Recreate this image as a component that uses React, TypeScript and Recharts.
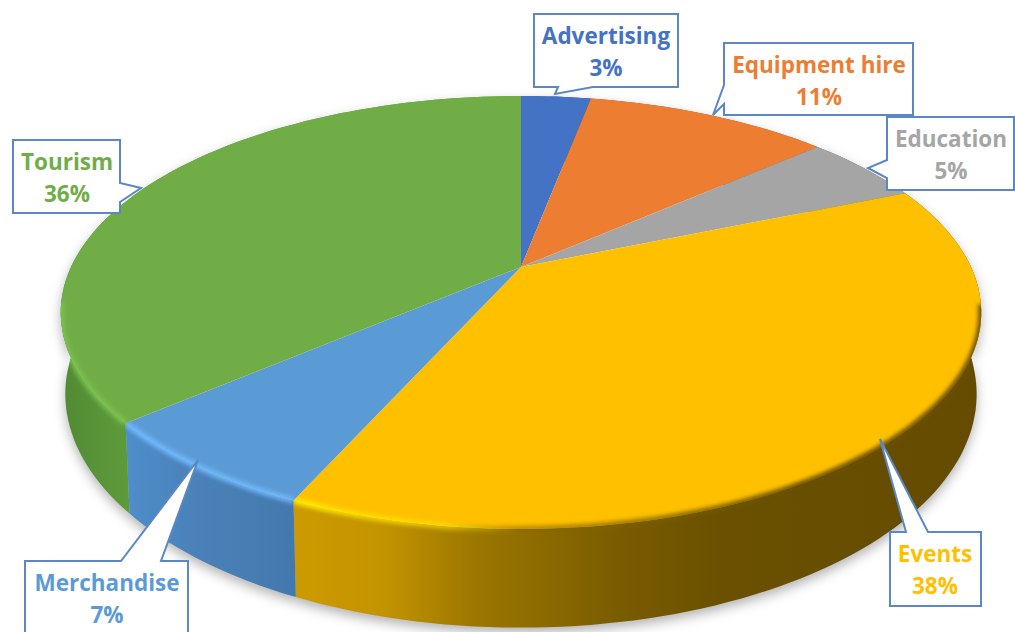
import React from "react";
import { PieChart, Pie, Cell } from "recharts";

const categories = ["Advertising", "Equipment hire", "Education", "Events", "Merchandise", "Tourism"];
const shares = [3, 10.5, 5.2, 38, 7, 36.3];
const colors = ["#4472C4", "#ED7D31", "#A5A5A5", "#FFC000", "#5B9BD5", "#70AD47"];

const rows = categories.map((name, i) => ({ name, value: shares[i] }));

const W = 1015;
const H = 632;
const CX = 521;
const CY = 267;
const RADIUS = 450;
const SQUASH = 0.4598;
const PERSP = 0.21;
const DEPTH = 78;
const WALL_NARROW = 0.99;
const RIM_FROM_Y = 302;
const FONT = "'Open Sans', sans-serif";

type Stop = [number, string];
const wallStops: Stop[][] = [
  [[0, "#35568f"], [1, "#2d4a7c"]],
  [[0, "#b05c24"], [1, "#a0531f"]],
  [[0, "#7c7c7c"], [1, "#6c6c6c"]],
  [[0, "#cc9a00"], [0.12, "#c49400"], [0.266, "#9a7600"], [0.47, "#7a5c00"], [0.62, "#6a5000"], [1, "#644b00"]],
  [[0, "#4e8ecb"], [0.08, "#4a82b9"], [0.2, "#4379ae"], [1, "#3f72a4"]],
  [[0, "#4f8a33"], [0.05, "#5a9639"], [0.1, "#609f3c"], [1, "#609f3c"]],
];
const rimStops: [number, string, number][][] = [
  [[0, "#4472C4", 0]],
  [[0, "#ED7D31", 0]],
  [[0, "#A5A5A5", 0]],
  [[0.26, "#ffee00", 0.95], [0.42, "#ffdc00", 0.7], [0.5, "#8a6800", 0.6], [0.8, "#6a5000", 1], [1, "#6a5000", 1]],
  [[0, "#72bcff", 0.9], [0.3, "#72bcff", 0.9]],
  [[0, "#7cc450", 0.9], [0.1, "#7cc450", 0.9], [0.16, "#7cc450", 0.8]],
];

type Callout = { box: [number, number, number, number]; ptr: [number, number][]; text: number };
const callouts: Callout[] = [
  { box: [534, 14, 678, 87], ptr: [[558, 87], [555, 94], [593, 87]], text: 606 },
  { box: [724, 43, 913, 115], ptr: [[724, 85], [713, 115], [724, 104]], text: 819 },
  { box: [887, 117, 1014, 190], ptr: [[887, 160], [868, 168], [887, 178]], text: 951 },
  { box: [890, 532, 981, 606], ptr: [[906, 532], [880, 439], [928, 532]], text: 935 },
  { box: [25, 561, 188, 660], ptr: [[121, 561], [198, 460], [161, 561]], text: 107 },
  { box: [13, 140, 120, 213], ptr: [[120, 183], [141, 188], [120, 202]], text: 67 },
];

const project = (cx: number, cy: number, r: number, deg: number) => {
  const a = (deg * Math.PI) / 180;
  const u = Math.cos(a);
  const v = -Math.sin(a);
  const d = 1 - PERSP * v;
  return { x: cx + (r * u) / d, y: cy + (r * SQUASH * v) / d, s: 1 / d };
};

const arcPoints = (p: any) => {
  const n = Math.max(4, Math.ceil(Math.abs(p.endAngle - p.startAngle) / 1.5));
  const out = [];
  for (let i = 0; i <= n; i++) {
    out.push(project(p.cx, p.cy, p.outerRadius, p.startAngle + ((p.endAngle - p.startAngle) * i) / n));
  }
  return out;
};
const line = (pts: { x: number; y: number }[]) =>
  pts.map((q, i) => `${i ? "L" : "M"}${q.x.toFixed(1)} ${q.y.toFixed(1)}`).join(" ");

const wallPath = (p: any) => {
  const rim = arcPoints(p);
  const low = rim
    .map((q) => ({ x: p.cx + (q.x - p.cx) * WALL_NARROW, y: q.y + DEPTH * q.s }))
    .reverse();
  return `${line(rim)} ${line(low).replace("M", "L")} Z`;
};

const ShadowSector = (p: any) => (
  <path d={wallPath(p)} transform="translate(0 5)" fill="#000" fillOpacity={0.3} filter="url(#soft)" />
);
const WallSector = (p: any) => <path d={wallPath(p)} fill={`url(#wall${p.index})`} />;
const TopSector = (p: any) => {
  const rim = arcPoints(p);
  const top = `M${p.cx} ${p.cy} ${line(rim).replace("M", "L")} Z`;
  const front = rim.filter((q) => q.y > RIM_FROM_Y);
  return (
    <g>
      <path d={top} fill={colors[p.index]} />
      <clipPath id={`topclip${p.index}`}>
        <path d={top} />
        <path d={wallPath(p)} />
      </clipPath>
      {front.length > 1 && (
        <g clipPath={`url(#topclip${p.index})`}>
          <path d={line(front)} fill="none" stroke={`url(#rim${p.index})`} strokeWidth={6} filter="url(#rimblur)" />
        </g>
      )}
    </g>
  );
};

const CalloutLabel = (p: any) => {
  const c = callouts[p.index];
  if (!c) return null;
  const [x0, y0, x1, y1] = c.box;
  const [a, tip, b] = c.ptr;
  const corners: [number, number][] = [[x0, y0], [x1, y0], [x1, y1], [x0, y1]];
  // walk the box outline, inserting the pointer on the side it leaves from
  const pts: [number, number][] = [];
  const side = a[1] === y0 && b[1] === y0 ? 0 : a[0] === x1 ? 1 : a[1] === y1 ? 2 : 3;
  corners.forEach((k, i) => {
    pts.push(k);
    if (i === side) {
      if (side === 2 || side === 3) pts.push(b, tip, a);
      else pts.push(a, tip, b);
    }
  });
  const color = colors[p.index];
  return (
    <g>
      <path
        d={`M${pts.map((q) => q.join(" ")).join(" L")} Z`}
        fill="#fff"
        stroke="#5B87C5"
        strokeWidth={2}
        strokeLinejoin="miter"
      />
      <text
        x={c.text}
        y={y0 + 29.5}
        textAnchor="middle"
        fontFamily={FONT}
        fontWeight={700}
        fontSize={22.5}
        fill={color}
      >
        {p.name}
      </text>
      <text
        x={c.text}
        y={y0 + 62}
        textAnchor="middle"
        fontFamily={FONT}
        fontWeight={700}
        fontSize={22.5}
        fill={color}
      >
        {`${Math.round(p.value)}%`}
      </text>
    </g>
  );
};

const common = {
  data: rows,
  dataKey: "value",
  nameKey: "name",
  cx: CX,
  cy: CY,
  innerRadius: 0,
  outerRadius: RADIUS,
  startAngle: 90,
  endAngle: -270,
  paddingAngle: 0,
  stroke: "none",
  isAnimationActive: false,
  labelLine: false,
  legendType: "none" as const,
};

export default function App() {
  return (
    <div style={{ position: "absolute", left: 0, top: 0, width: W, height: H, overflow: "hidden", background: "#fff" }}>
      <PieChart width={W} height={H} margin={{ top: 0, right: 0, bottom: 0, left: 0 }}>
        <defs>
          <filter id="soft" x="-20%" y="-20%" width="140%" height="140%">
            <feGaussianBlur stdDeviation="6" />
          </filter>
          <filter id="rimblur" x="0" y="0" width={W} height={H} filterUnits="userSpaceOnUse">
            <feGaussianBlur stdDeviation="2" />
          </filter>
          {wallStops.map((stops, i) => (
            <linearGradient key={i} id={`wall${i}`} gradientUnits="userSpaceOnUse" x1={60} x2={980} y1={0} y2={0}>
              {i === 3
                ? stops.map(([o, c]) => <stop key={o} offset={o * 0.74 + 0.26} stopColor={c} />)
                : i === 4
                ? stops.map(([o, c]) => <stop key={o} offset={o * 0.9 + 0.07} stopColor={c} />)
                : stops.map(([o, c]) => <stop key={o} offset={o} stopColor={c} />)}
            </linearGradient>
          ))}
          {rimStops.map((stops, i) => (
            <linearGradient key={i} id={`rim${i}`} gradientUnits="userSpaceOnUse" x1={60} x2={980} y1={0} y2={0}>
              {stops.map(([o, c, a]) => (
                <stop key={o} offset={o} stopColor={c} stopOpacity={a} />
              ))}
            </linearGradient>
          ))}
        </defs>
        <Pie {...common} shape={ShadowSector} />
        <Pie {...common} shape={WallSector} />
        <Pie {...common} shape={TopSector} label={CalloutLabel}>
          {rows.map((r, i) => (
            <Cell key={r.name} fill={colors[i]} />
          ))}
        </Pie>
      </PieChart>
    </div>
  );
}
